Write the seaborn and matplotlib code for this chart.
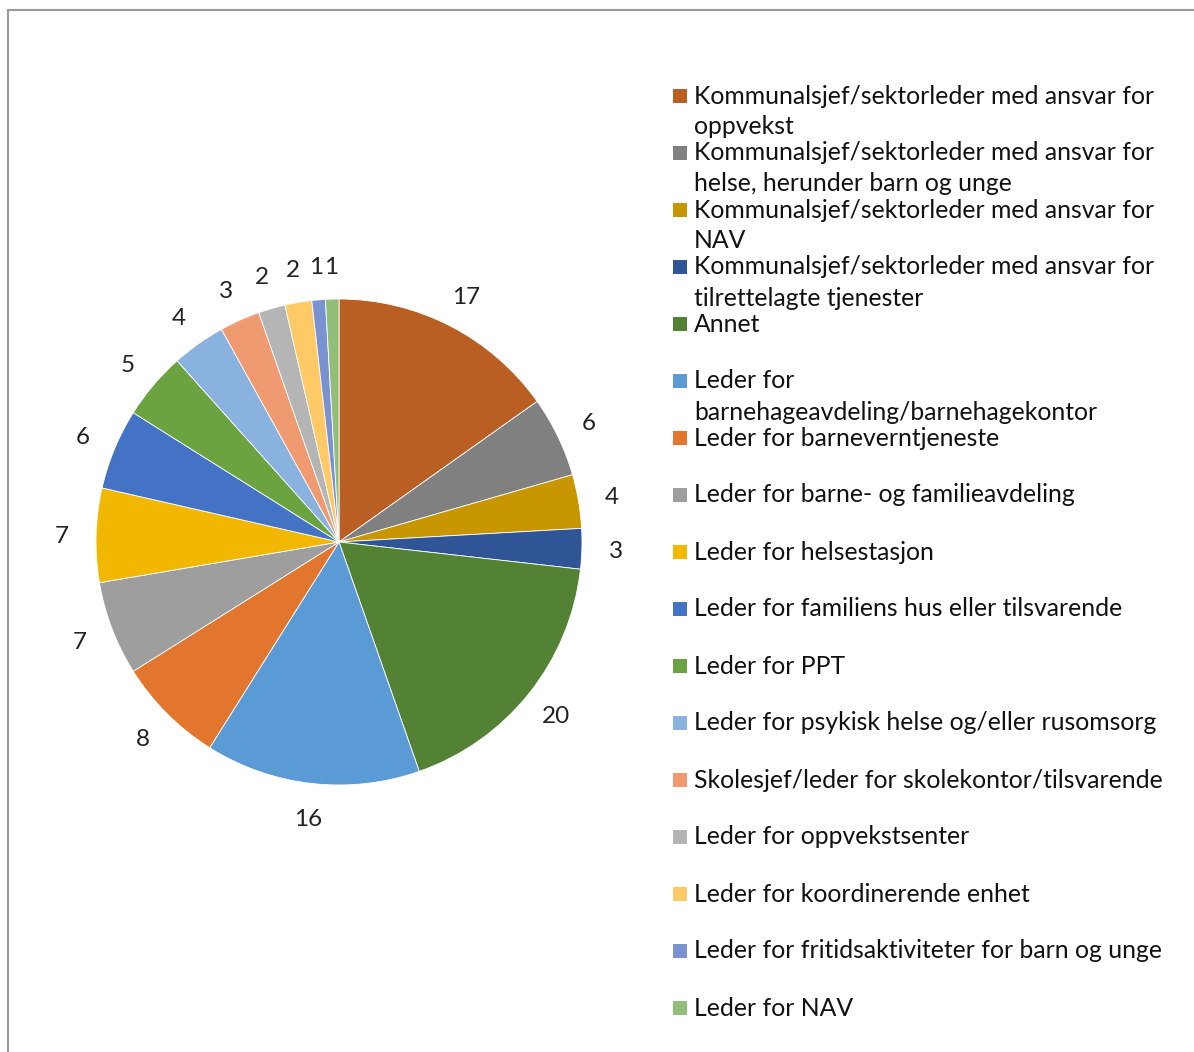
import matplotlib
matplotlib.use("Agg")
import matplotlib.pyplot as plt
import seaborn as sns
from matplotlib.patches import Rectangle

categories = [
    "Kommunalsjef/sektorleder med ansvar for\noppvekst",
    "Kommunalsjef/sektorleder med ansvar for\nhelse, herunder barn og unge",
    "Kommunalsjef/sektorleder med ansvar for\nNAV",
    "Kommunalsjef/sektorleder med ansvar for\ntilrettelagte tjenester",
    "Annet",
    "Leder for\nbarnehageavdeling/barnehagekontor",
    "Leder for barneverntjeneste",
    "Leder for barne- og familieavdeling",
    "Leder for helsestasjon",
    "Leder for familiens hus eller tilsvarende",
    "Leder for PPT",
    "Leder for psykisk helse og/eller rusomsorg",
    "Skolesjef/leder for skolekontor/tilsvarende",
    "Leder for oppvekstsenter",
    "Leder for koordinerende enhet",
    "Leder for fritidsaktiviteter for barn og unge",
    "Leder for NAV",
]
values = [17, 6, 4, 3, 20, 16, 8, 7, 7, 6, 5, 4, 3, 2, 2, 1, 1]
colors = ["#BA5F23", "#808080", "#C89600", "#2F5597", "#548235", "#5B9BD5",
          "#E2762E", "#9E9E9E", "#F2B700", "#4472C4", "#6AA340", "#8AB2DE",
          "#F09A72", "#B5B5B5", "#FFC966", "#7A93D0", "#92BE7A"]

sns.set_theme(style="white")
plt.rcParams['font.family'] = ['Lato', 'DejaVu Sans']

W, H = 1194, 1052
fig = plt.figure(figsize=(W / 100, H / 100), dpi=100)
fig.patch.set_facecolor("white")

# border (top and left visible)
fig.add_artist(Rectangle((8 / W, -0.1), 1.2, (H - 10) / H + 0.1, transform=fig.transFigure,
                         fill=False, edgecolor="#9a9a9a", linewidth=1.5))

cx, cy, r = 339, 542, 243
ax = fig.add_axes([(cx - r) / W, (H - cy - r) / H, 2 * r / W, 2 * r / H])
palette = sns.color_palette(colors)
wedges, texts = ax.pie(values, labels=[str(v) for v in values], colors=palette,
                       startangle=90, counterclock=False, radius=1,
                       labeldistance=1.14,
                       wedgeprops=dict(edgecolor="white", linewidth=0.6),
                       textprops=dict(fontsize=17.5, color="#222222"))
for t in texts:
    t.set_ha("center")
    t.set_va("center_baseline")
ax.set_xlim(-1, 1)
ax.set_ylim(-1, 1)
ax.set_aspect("auto")

# legend
fs = 17.8
y0 = 96
step = 57
for i, (lab, col) in enumerate(zip(categories, colors)):
    y = y0 + step * i
    fig.add_artist(Rectangle((673 / W, 1 - (y + 7) / H), 14 / W, 14 / H,
                             transform=fig.transFigure, facecolor=col, edgecolor="none"))
    lines = lab.split("\n")
    for j, ln in enumerate(lines):
        fig.text(694 / W, 1 - (y + 31 * j) / H, ln, fontsize=fs, color="#111111",
                 ha="left", va="center")

fig.savefig("out.png", dpi=100, facecolor="white")
